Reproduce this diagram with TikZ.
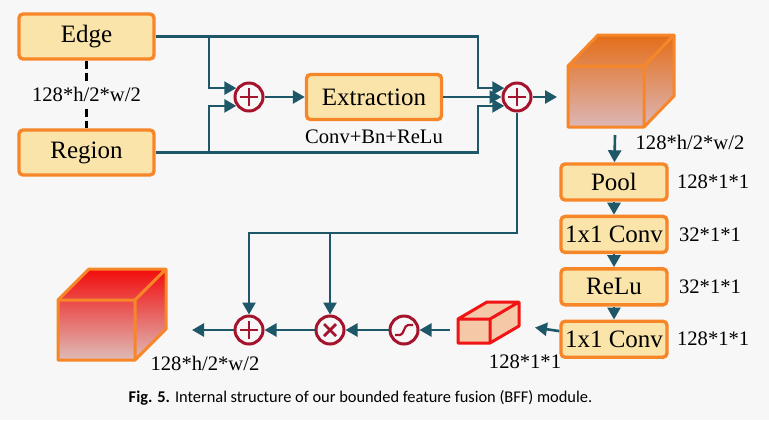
\documentclass[tikz,border=0pt]{standalone}
\usepackage{fontspec}
\setmainfont{Liberation Serif}
\newfontfamily\boxfont{Liberation Serif}
\newfontfamily\capfont{Carlito}
\usetikzlibrary{arrows.meta}
\usetikzlibrary{positioning}

\definecolor{bg}{RGB}{247,247,247}
\definecolor{boxfill}{RGB}{250,228,170}
\definecolor{boxline}{RGB}{247,134,40}
\definecolor{flowc}{RGB}{30,88,104}
\definecolor{opred}{RGB}{165,20,45}
\definecolor{redline}{RGB}{240,20,20}

\tikzset{
    >={Triangle[length=6pt,width=6.5pt]},
    blk/.style={draw=boxline, line width=1.7pt, fill=boxfill, rounded corners=2pt,
        font=\boxfont\fontsize{12.5}{14}\selectfont, inner sep=0pt},
    bigblk/.style={blk, minimum width=67.5pt, minimum height=22.5pt},
    smallblk/.style={blk, minimum width=53pt, minimum height=18pt},
    dim/.style={font=\boxfont\fontsize{10.3}{12}\selectfont, inner sep=1pt},
    flow/.style={draw=flowc, line width=1.3pt},
    opcirc/.style={circle, draw=opred, line width=1.5pt, minimum size=14pt, inner sep=0pt},
    opline/.style={draw=opred, line width=1.4pt},
    plusop/.style={opcirc, path picture={
        \draw[opline] ([xshift=2.5pt]path picture bounding box.west) -- ([xshift=-2.5pt]path picture bounding box.east)
                      ([yshift=-2.5pt]path picture bounding box.north) -- ([yshift=2.5pt]path picture bounding box.south);}},
    mulop/.style={opcirc, path picture={
        \draw[opline] ([shift={(-3pt,-3pt)}]path picture bounding box.center) -- ([shift={(3pt,3pt)}]path picture bounding box.center)
                      ([shift={(-3pt,3pt)}]path picture bounding box.center) -- ([shift={(3pt,-3pt)}]path picture bounding box.center);}},
    sigop/.style={opcirc, path picture={
        \draw[opline, line width=1.1pt] ([shift={(-4.5pt,-2.5pt)}]path picture bounding box.center) -- ++(2.5pt,0)
            .. controls +(2pt,0) and +(-2pt,0) .. ++(4pt,5pt) -- ++(2.5pt,0);}}
}

\begin{document}
\begin{tikzpicture}[x=0.5pt, y=-0.5pt]
    \fill[bg] (0,0) rectangle (769,420);
    \useasboundingbox (0,0) rectangle (769,420);

    \node[bigblk] (edge) at (86.5,36.5) {Edge};
    \node[bigblk] (region) at (86.5,152.5) {Region};
    \draw[dash pattern=on 4pt off 2pt, line width=1.3pt] (edge) -- node[dim, fill=bg, inner sep=2pt] {128*h/2*w/2} (region);

    \node[plusop] (add1) at (249,97) {};
    \node[bigblk] (extr) at (374,97) {Extraction};
    \node[dim] (extrlab) [below = 3pt of extr] {Conv+Bn+ReLu};
    \node[plusop] (add2) at (517,97) {};

    \coordinate (e1) at (478,36.5);
    \coordinate (e2) at (209,36.5);
    \coordinate (g1) at (478,152.5);
    \coordinate (g2) at (209,152.5);

    \draw[flow,->] (edge.east) -- (e1) |- (add2.145);
    \draw[flow,->] (e2) |- (add1.145);
    \draw[flow,->] (region.east) -- (g1) |- (add2.215);
    \draw[flow,->] (g2) |- (add1.215);
    \draw[flow,->] (add1) -- (extr);
    \draw[flow,->] (extr) -- (add2);

    % feature cube
    \shade[top color={rgb,255:red,228;green,110;blue,25}, bottom color={rgb,255:red,220;green,182;blue,182}]
        (568,66) -- (598,35) -- (674,35) -- (674,96) -- (644,127) -- (568,127) -- cycle;
    \draw[boxline, line width=1.5pt, line join=round]
        (568,66) -- (598,35) -- (674,35) -- (674,96) -- (644,127) -- (568,127) -- cycle
        (568,66) -- (644,66) -- (644,127) (644,66) -- (674,35);
    \coordinate (c1in) at (557,97);
    \coordinate (c1out) at (615,135);
    \node[dim] (c1lab) at (690,142) {128*h/2*w/2};
    \draw[flow,->] (add2) -- (c1in);

    \node[smallblk] (pool) at (614,182) {Pool};
    \node[smallblk] (conv1) [below = 6.5pt of pool] {1x1 Conv};
    \node[smallblk] (relu) [below = 6.5pt of conv1] {ReLu};
    \node[smallblk] (conv2) [below = 6.5pt of relu] {1x1 Conv};

    \node[dim] (poollab) [right = 3pt of pool] {128*1*1};
    \node[dim] (conv1lab) [right = 4pt of conv1] {32*1*1};
    \node[dim] (relulab) [right = 4pt of relu] {32*1*1};
    \node[dim] (conv2lab) [right = 3pt of conv2] {128*1*1};

    \draw[flow,->] (c1out) -- (pool);
    \draw[flow,->] (pool) -- (conv1);
    \draw[flow,->] (conv1) -- (relu);
    \draw[flow,->] (relu) -- (conv2);

    % weight cuboid
    \fill[fill={rgb,255:red,245;green,200;blue,168}]
        (458,319) -- (487,302) -- (519,302) -- (519,326) -- (490,343) -- (458,343) -- cycle;
    \draw[redline, line width=1.5pt, line join=round]
        (458,319) -- (487,302) -- (519,302) -- (519,326) -- (490,343) -- (458,343) -- cycle
        (458,319) -- (490,319) -- (490,343) (490,319) -- (519,302);
    \coordinate (scin) at (535,327.5);
    \coordinate (scout) at (450,330);
    \node[dim] (sclab) at (525,362) {128*1*1};
    \draw[flow,->] (conv2) -- (scin);

    \node[sigop] (sig) at (404,330) {};
    \node[mulop] (mul) at (330,330) {};
    \node[plusop] (add3) at (249,330) {};
    \coordinate (c2in) at (192,330);

    \draw[flow,->] (scout) -- (sig);
    \draw[flow,->] (sig) -- (mul);
    \draw[flow,->] (mul) -- (add3);
    \draw[flow,->] (add3) -- (c2in);

    \coordinate (j1) at (249,233);
    \coordinate (j2) at (330,233);
    \draw[flow,->] (add2.south) |- (j1) -- (add3.north);
    \draw[flow,->] (j2) -- (mul.north);

    % output cube
    \shade[top color={rgb,255:red,242;green,12;blue,12}, bottom color={rgb,255:red,222;green,188;blue,184}]
        (58,300) -- (89,269) -- (166,269) -- (166,329) -- (135,360) -- (58,360) -- cycle;
    \draw[boxline, line width=1.5pt, line join=round]
        (58,300) -- (89,269) -- (166,269) -- (166,329) -- (135,360) -- (58,360) -- cycle
        (58,300) -- (135,300) -- (135,360) (135,300) -- (166,269);
    \node[dim] (c2lab) at (205,363) {128*h/2*w/2};

    \node[font=\capfont\fontsize{8.2}{10}\selectfont] (cap) at (360.5,398)
        {\textbf{Fig. 5.} Internal structure of our bounded feature fusion (BFF) module.};
\end{tikzpicture}
\end{document}
